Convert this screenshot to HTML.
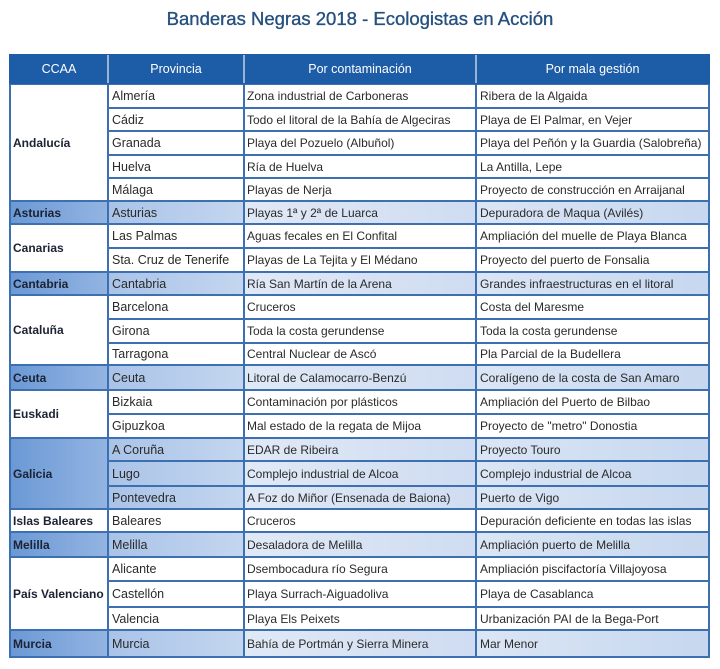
<!DOCTYPE html>
<html><head><meta charset="utf-8">
<style>
html,body{margin:0;padding:0;background:#fff;}
body{width:720px;height:669px;position:relative;overflow:hidden;font-family:"Liberation Sans",Arial,sans-serif;}
.title{position:absolute;left:0;top:9px;width:720px;height:20px;line-height:20px;text-align:center;font-size:18.5px;color:#25507f;-webkit-text-stroke:0.35px #25507f;white-space:nowrap;}
.tbl{position:absolute;left:9px;top:54px;width:701px;height:604px;background:#3c70b1;}
.hdr{position:absolute;left:9px;top:54px;width:701px;height:30px;background:#1d5ca6;}
.hs{position:absolute;top:55px;width:2px;height:28px;background:#9cb3d2;}
.ht{position:absolute;top:54px;height:30px;line-height:30px;color:#fff;font-size:12.5px;text-align:center;}
.row{position:absolute;left:0;width:720px;}
.row>div{position:absolute;top:0;height:100%;display:flex;align-items:center;white-space:nowrap;overflow:hidden;background:#fff;color:#2a2a2a;}
.p{left:109px;width:134px;font-size:12.5px;padding-left:3px;box-sizing:border-box;}
.c{left:245px;width:230px;font-size:12px;padding-left:2px;box-sizing:border-box;}
.m{left:477px;width:231px;font-size:12px;padding-left:3px;box-sizing:border-box;}
.row.h>.p{background:linear-gradient(to right,#a9c3e8,#c4d6ef);}
.row.h>.c{background:linear-gradient(to right,#e0e9f6,#cfdcf1);}
.row.h>.m{background:linear-gradient(to right,#dbe6f5,#c6d7ef);}
.cc{position:absolute;left:11px;width:96px;display:flex;align-items:center;font-weight:bold;font-size:12px;color:#1b2232;background:#fff;padding-left:2px;box-sizing:border-box;white-space:nowrap;}
.cc.h{background:linear-gradient(to right,#6b99d5,#93b4e2);}
</style></head><body>
<div class="title">Banderas Negras 2018 - Ecologistas en Acción</div>
<div class="tbl"></div>
<div class="hdr"></div>
<div class="hs" style="left:107px"></div>
<div class="hs" style="left:243px"></div>
<div class="hs" style="left:475px"></div>
<div class="ht" style="left:10px;width:98px">CCAA</div>
<div class="ht" style="left:108px;width:136px">Provincia</div>
<div class="ht" style="left:244px;width:232px">Por contaminación</div>
<div class="ht" style="left:476px;width:233px">Por mala gestión</div>

<div class="cc" style="top:85px;height:115px">Andalucía</div>
<div class="cc h" style="top:202px;height:21px">Asturias</div>
<div class="cc" style="top:225px;height:46px">Canarias</div>
<div class="cc h" style="top:273px;height:21px">Cantabria</div>
<div class="cc" style="top:296px;height:68px">Cataluña</div>
<div class="cc h" style="top:366px;height:23px">Ceuta</div>
<div class="cc" style="top:391px;height:46px">Euskadi</div>
<div class="cc h" style="top:439px;height:69px">Galicia</div>
<div class="cc" style="top:510px;height:21px">Islas Baleares</div>
<div class="cc h" style="top:533px;height:23px">Melilla</div>
<div class="cc" style="top:558px;height:71px">País Valenciano</div>
<div class="cc h" style="top:631px;height:25px">Murcia</div>

<div class="row" style="top:85px;height:22px"><div class="p">Almería</div><div class="c">Zona industrial de Carboneras</div><div class="m">Ribera de la Algaida</div></div>
<div class="row" style="top:109px;height:21px"><div class="p">Cádiz</div><div class="c">Todo el litoral de la Bahía de Algeciras</div><div class="m">Playa de El Palmar, en Vejer</div></div>
<div class="row" style="top:132px;height:22px"><div class="p">Granada</div><div class="c">Playa del Pozuelo (Albuñol)</div><div class="m">Playa del Peñón y la Guardia (Salobreña)</div></div>
<div class="row" style="top:156px;height:21px"><div class="p">Huelva</div><div class="c">Ría de Huelva</div><div class="m">La Antilla, Lepe</div></div>
<div class="row" style="top:179px;height:21px"><div class="p">Málaga</div><div class="c">Playas de Nerja</div><div class="m">Proyecto de construcción en Arraijanal</div></div>
<div class="row h" style="top:202px;height:21px"><div class="p">Asturias</div><div class="c">Playas 1ª y 2ª de Luarca</div><div class="m">Depuradora de Maqua (Avilés)</div></div>
<div class="row" style="top:225px;height:22px"><div class="p">Las Palmas</div><div class="c">Aguas fecales en El Confital</div><div class="m">Ampliación del muelle de Playa Blanca</div></div>
<div class="row" style="top:249px;height:22px"><div class="p">Sta. Cruz de Tenerife</div><div class="c">Playas de La Tejita y El Médano</div><div class="m">Proyecto del puerto de Fonsalia</div></div>
<div class="row h" style="top:273px;height:21px"><div class="p">Cantabria</div><div class="c">Ría San Martín de la Arena</div><div class="m">Grandes infraestructuras en el litoral</div></div>
<div class="row" style="top:296px;height:22px"><div class="p">Barcelona</div><div class="c">Cruceros</div><div class="m">Costa del Maresme</div></div>
<div class="row" style="top:320px;height:22px"><div class="p">Girona</div><div class="c">Toda la costa gerundense</div><div class="m">Toda la costa gerundense</div></div>
<div class="row" style="top:344px;height:20px"><div class="p">Tarragona</div><div class="c">Central Nuclear de Ascó</div><div class="m">Pla Parcial de la Budellera</div></div>
<div class="row h" style="top:366px;height:23px"><div class="p">Ceuta</div><div class="c">Litoral de Calamocarro-Benzú</div><div class="m">Coralígeno de la costa de San Amaro</div></div>
<div class="row" style="top:391px;height:22px"><div class="p">Bizkaia</div><div class="c">Contaminación por plásticos</div><div class="m">Ampliación del Puerto de Bilbao</div></div>
<div class="row" style="top:415px;height:22px"><div class="p">Gipuzkoa</div><div class="c">Mal estado de la regata de Mijoa</div><div class="m">Proyecto de "metro" Donostia</div></div>
<div class="row h" style="top:439px;height:21px"><div class="p">A Coruña</div><div class="c">EDAR de Ribeira</div><div class="m">Proyecto Touro</div></div>
<div class="row h" style="top:462px;height:23px"><div class="p">Lugo</div><div class="c">Complejo industrial de Alcoa</div><div class="m">Complejo industrial de Alcoa</div></div>
<div class="row h" style="top:487px;height:21px"><div class="p">Pontevedra</div><div class="c">A Foz do Miñor (Ensenada de Baiona)</div><div class="m">Puerto de Vigo</div></div>
<div class="row" style="top:510px;height:21px"><div class="p">Baleares</div><div class="c">Cruceros</div><div class="m">Depuración deficiente en todas las islas</div></div>
<div class="row h" style="top:533px;height:23px"><div class="p">Melilla</div><div class="c">Desaladora de Melilla</div><div class="m">Ampliación puerto de Melilla</div></div>
<div class="row" style="top:558px;height:22px"><div class="p">Alicante</div><div class="c">Dsembocadura río Segura</div><div class="m">Ampliación piscifactoría Villajoyosa</div></div>
<div class="row" style="top:582px;height:24px"><div class="p">Castellón</div><div class="c">Playa Surrach-Aiguadoliva</div><div class="m">Playa de Casablanca</div></div>
<div class="row" style="top:608px;height:21px"><div class="p">Valencia</div><div class="c">Playa Els Peixets</div><div class="m">Urbanización PAI de la Bega-Port</div></div>
<div class="row h" style="top:631px;height:25px"><div class="p">Murcia</div><div class="c">Bahía de Portmán y Sierra Minera</div><div class="m">Mar Menor</div></div>
</body></html>
